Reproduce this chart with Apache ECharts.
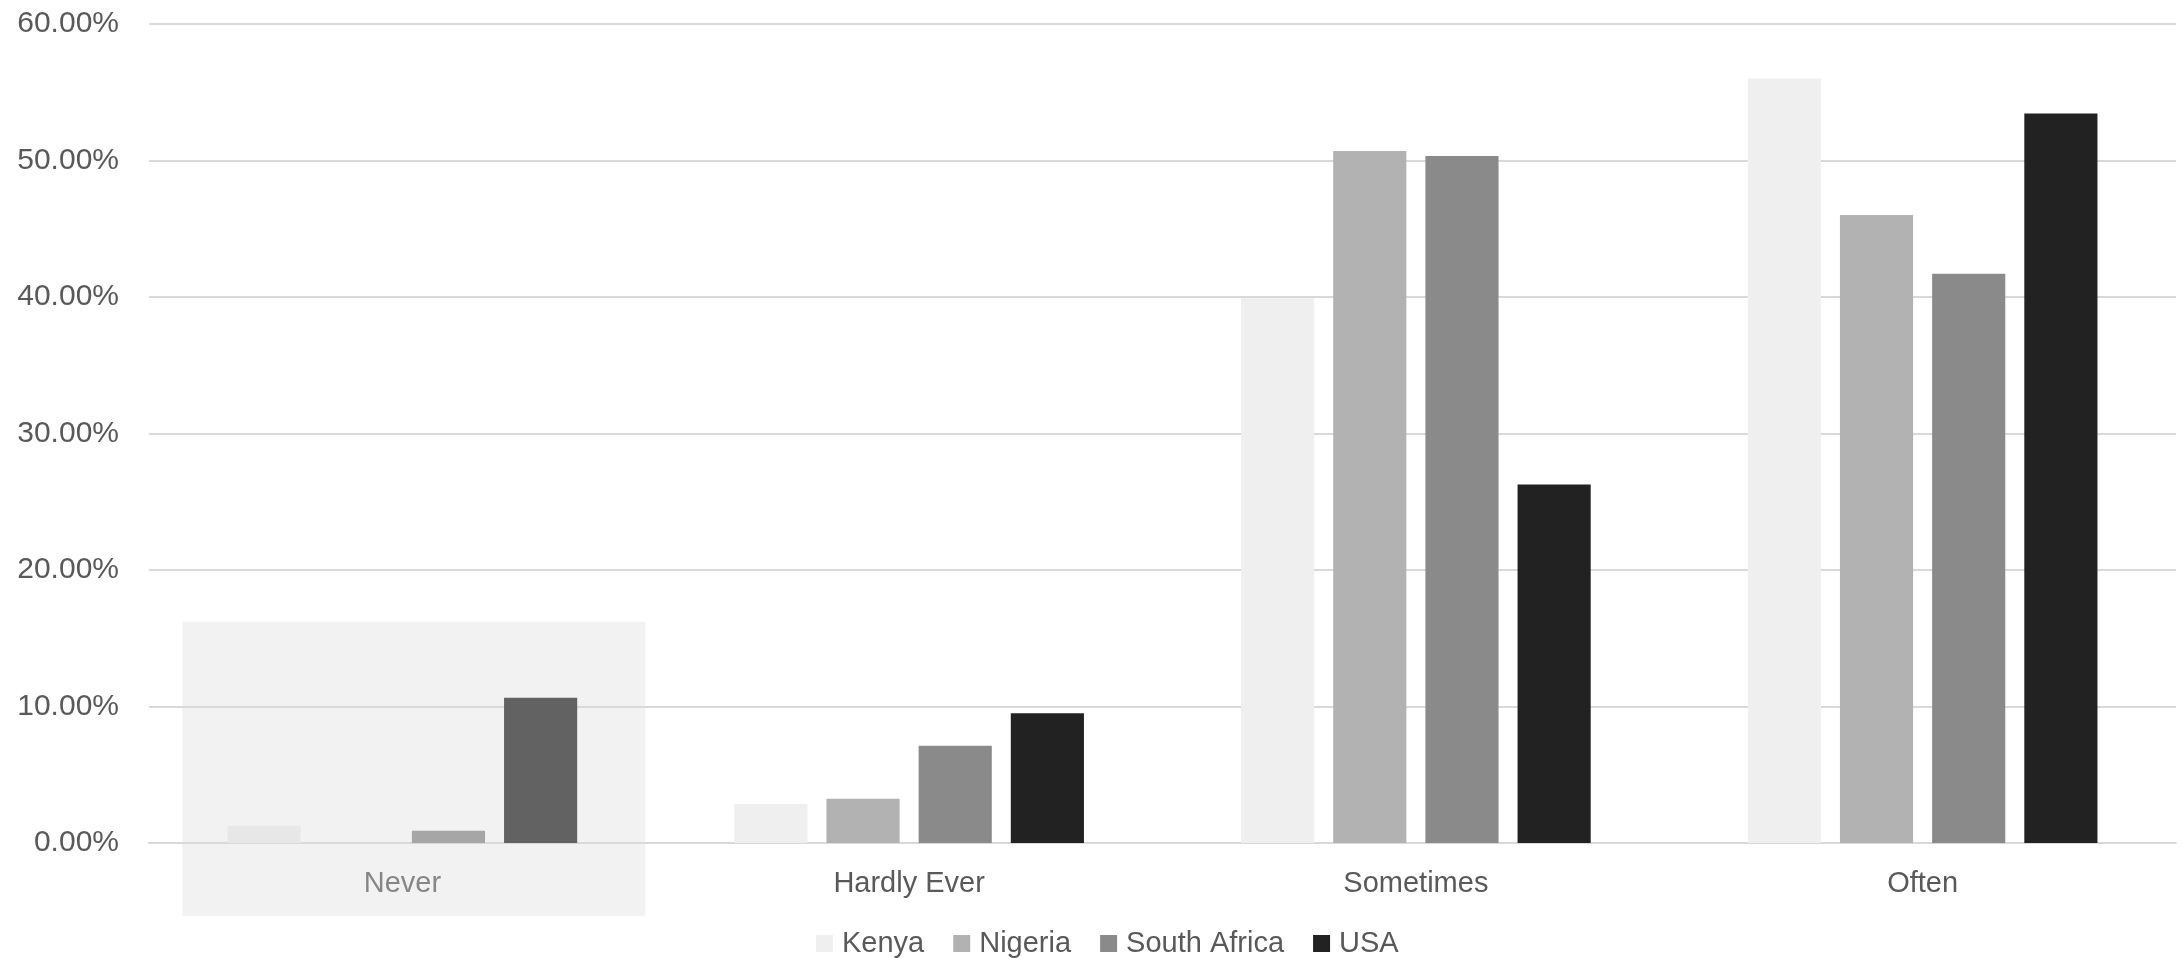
<!DOCTYPE html>
<html>
<head>
<meta charset="utf-8">
<script src="https://cdn.jsdelivr.net/npm/echarts@6/dist/echarts.min.js"></script>
<style>
  html, body { margin: 0; padding: 0; background: #fff; }
  #chart { width: 2183px; height: 958px; }
</style>
</head>
<body>
<div id="chart"></div>
<script>
// answers per country, in percent
const categories = ['Never', 'Hardly Ever', 'Sometimes', 'Often'];
const kenya = [1.27, 2.86, 39.9, 56.0];
const nigeria = [0, 3.25, 50.7, 46.0];
const southAfrica = [0.9, 7.13, 50.33, 41.7];
const usa = [10.64, 9.5, 26.27, 53.45];
const yTicks = [0, 10, 20, 30, 40, 50, 60];

const colors = ['#efefef', '#b2b2b2', '#8a8a8a', '#222222'];
const font = '"Liberation Sans", Arial, sans-serif';

const chart = echarts.init(document.getElementById('chart'));

function bar(name, data) {
  return {
    name: name,
    type: 'bar',
    data: data,
    barGap: '26%',
    barCategoryGap: '31%'
  };
}

const option = {
  animation: false,
  color: colors,
  grid: { left: 149, right: 7, top: 24, bottom: 115, containLabel: false },
  legend: {
    left: 816,
    top: 929,
    padding: 0,
    icon: 'rect',
    itemWidth: 17,
    itemHeight: 17,
    itemGap: 29,
    textStyle: { color: '#595959', fontSize: 29, fontFamily: font, padding: [0, 0, 0, 4] },
    data: ['Kenya', 'Nigeria', 'South Africa', 'USA']
  },
  xAxis: {
    type: 'category',
    data: categories,
    axisLine: { show: true, lineStyle: { color: '#d9d9d9', width: 2 } },
    axisTick: { show: false },
    axisLabel: { color: '#595959', fontSize: 29, fontFamily: font, margin: 26 }
  },
  yAxis: {
    type: 'value',
    min: yTicks[0],
    max: yTicks[yTicks.length - 1],
    interval: 10,
    axisLine: { show: false },
    axisTick: { show: false },
    splitLine: { lineStyle: { color: '#d9d9d9', width: 2 } },
    axisLabel: {
      color: '#595959', fontSize: 30, fontFamily: font, margin: 30,
      formatter: v => v.toFixed(2) + '%'
    }
  },
  series: [
    bar('Kenya', kenya),
    bar('Nigeria', nigeria),
    bar('South Africa', southAfrica),
    bar('USA', usa)
  ]
};

chart.setOption(option);

// translucent hover box over the "Never" group
const cx = chart.convertToPixel({ xAxisIndex: 0 }, categories[0]);
const boxTop = chart.convertToPixel({ yAxisIndex: 0 }, 16.2);
const base = chart.convertToPixel({ yAxisIndex: 0 }, 0);
chart.setOption({
  graphic: [{
    type: 'rect',
    z: 100,
    silent: true,
    shape: { x: cx - 220, y: boxTop, width: 463, height: base - boxTop + 73 },
    style: { fill: 'rgba(218,218,218,0.35)' }
  }]
});
</script>
</body>
</html>
